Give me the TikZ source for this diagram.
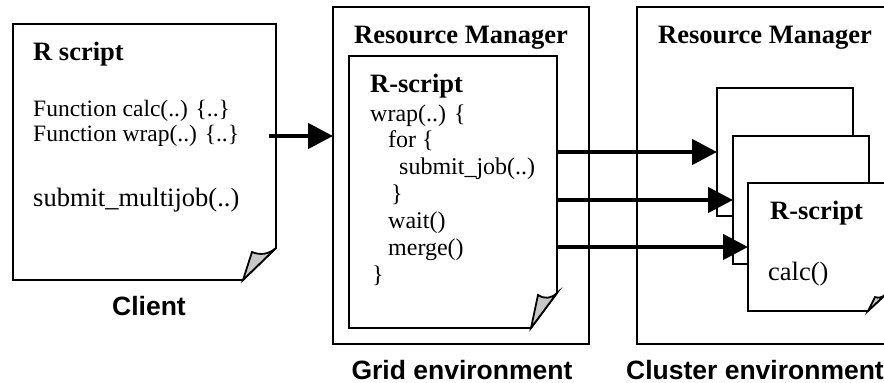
\documentclass[tikz,border=0pt]{standalone}
\usepackage{fontspec}
\setmainfont{Liberation Serif}
\newfontfamily\labelfont{Liberation Sans}
\usetikzlibrary{arrows.meta,calc}

\definecolor{foldgray}{RGB}{200,200,200}

% A page with a curled lower right corner, drawn round an existing node.
% #1 node, #2 fold width, #3 fold height, #4/#5 curl tip (from the corner), #6 sag of the curl
\newcommand\foldeddoc[6]{%
  \draw[docline, fill=white] (#1.north west) -- (#1.north east)
    -- ($(#1.south east)+(0,-#3)$) -- ($(#1.south east)+(-#2,0)$)
    -- (#1.south west) -- cycle;
  \coordinate (#1-b) at ($(#1.south east)+(-#2,0)$);
  \coordinate (#1-r) at ($(#1.south east)+(0,-#3)$);
  \coordinate (#1-c) at ($(#1.south east)+(-#4,-#5)$);
  \draw[docline, fill=foldgray] (#1-b) -- (#1-c)
    .. controls ($(#1-c)!0.35!(#1-r)+(0,#6)$) and ($(#1-c)!0.7!(#1-r)+(0,#6)$) .. (#1-r)
    -- cycle;
}

\tikzset{
  x=1pt, y=-1pt,
  frame/.style={rectangle, inner sep=0pt, outer sep=0pt},
  docline/.style={line width=1.8pt},
  title/.style={font=\fontsize{26.5}{28}\selectfont\bfseries, inner sep=0pt, anchor=base west},
  code/.style={font=\fontsize{24}{26}\selectfont, inner sep=0pt, anchor=base west},
  clientcode/.style={font=\fontsize{23.5}{25}\selectfont, inner sep=0pt, anchor=base west},
  bigcode/.style={font=\fontsize{26.5}{28}\selectfont, inner sep=0pt, anchor=base west},
  envlabel/.style={font=\labelfont\bfseries\fontsize{26.5}{28}\selectfont, inner sep=0pt, anchor=base},
  bigarrow/.style={line width=4.5pt, -{Triangle[length=25pt,width=25pt]}},
}

\begin{document}
\begin{tikzpicture}
\useasboundingbox (0,0) rectangle (884,383);
\clip (0,0) rectangle (884,383);

% environment frames
\node[frame, minimum width=256pt, minimum height=337pt] (gridbox) at (461,175.5) {};
\draw[docline] (gridbox.north west) rectangle (gridbox.south east);
\node[frame, minimum width=263pt, minimum height=337pt] (clusterbox) at (768.5,175.5) {};
\draw[docline] (clusterbox.north west) rectangle (clusterbox.south east);

% client script
\node[frame, minimum width=263pt, minimum height=256pt] (client) at (144.5,152) {};
\foldeddoc{client}{33}{32}{24}{28}{5}

% grid script
\node[frame, minimum width=208pt, minimum height=272pt] (gdoc) at (453,192) {};
\foldeddoc{gdoc}{26}{35}{19}{33}{5}

% stack of cluster scripts
\node[frame, minimum width=136pt, minimum height=128pt] (doc1) at (785,152) {};
\draw[docline, fill=white] (doc1.north west) rectangle (doc1.south east);
\node[frame, minimum width=136pt, minimum height=128pt] (doc2) at (801,200) {};
\draw[docline, fill=white] (doc2.north west) rectangle (doc2.south east);
\node[frame, minimum width=137pt, minimum height=128pt] (doc3) at (816.5,247) {};
\foldeddoc{doc3}{17}{16}{10}{14}{2}

% client texts
\node[title] (clienttitle) at (33,60.5) {R script};
\node[clientcode] (fcalc) at (33,116.5) {Function calc(..) \{..\}};
\node[clientcode] (fwrap) at (33,141.5) {Function wrap(..) \{..\}};
\node[bigcode] (fmulti) at (33,206.5) {submit\_multijob(..)};
\node[envlabel] (clientlabel) at (149,315) {Client};

% grid texts
\node[title, anchor=base] (gridrm) at (461,43) {Resource Manager};
\node[title] (gridtitle) at (370,92) {R-script};
\node[code] (g1) at (370,121) {wrap(..) \{};
\node[code] (g2) at (388,147) {for \{};
\node[code] (g3) at (399,174) {submit\_job(..)};
\node[code] (g4) at (391,201) {\}};
\node[code] (g5) at (388,228) {wait()};
\node[code] (g6) at (388,255) {merge()};
\node[code] (g7) at (372,282) {\}};
\node[envlabel] (gridlabel) at (462,379) {Grid environment};

% cluster texts
\node[title, anchor=base] (clusterrm) at (765,43) {Resource Manager};
\node[title] (clustertitle) at (770,219) {R-script};
\node[bigcode] (ccalc) at (768,280) {calc()};
\node[envlabel] (clusterlabel) at (755,379) {Cluster environment};

% connectors
\coordinate (c0) at ($(client.east)+(-7,-16)$);
\draw[bigarrow] (c0) -- (c0 -| gridbox.west);
\draw[bigarrow] (gdoc.east |- doc1.west) -- (doc1.west);
\draw[bigarrow] (gdoc.east |- doc2.west) -- (doc2.west);
\draw[bigarrow] (gdoc.east |- doc3.west) -- (doc3.west);
\end{tikzpicture}
\end{document}
